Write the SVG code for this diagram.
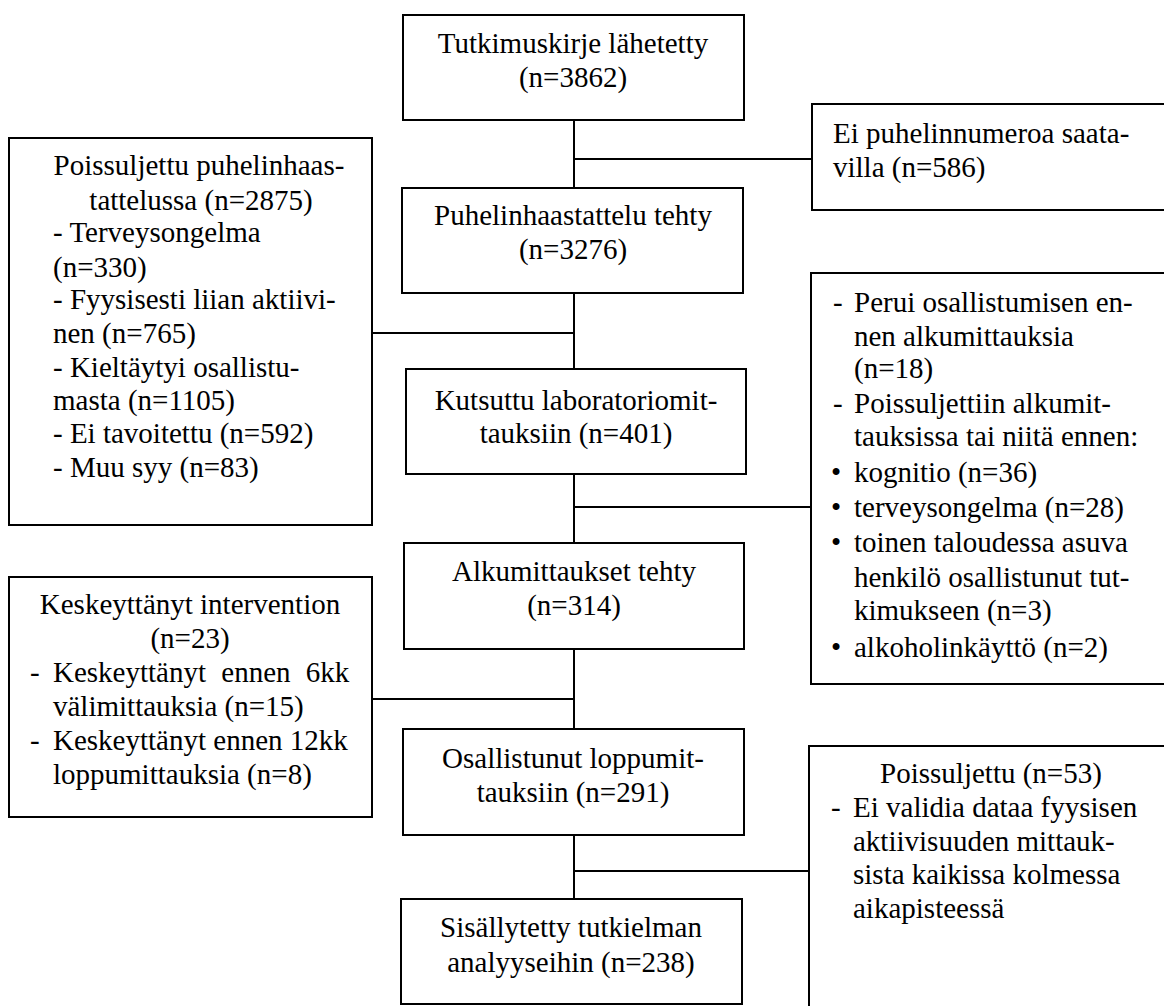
<svg xmlns="http://www.w3.org/2000/svg" width="1164" height="1006" viewBox="0 0 1164 1006">
<style>
.box{fill:#fff;stroke:#000;stroke-width:2}
.ln{stroke:#000;stroke-width:2;fill:none}
.c{text-anchor:middle}
</style>
<rect width="1164" height="1006" fill="#fff"/>
<g id="connectors">
<line class="ln" x1="574" y1="120" x2="574" y2="899"/>
<line class="ln" x1="574" y1="159" x2="812" y2="159"/>
<line class="ln" x1="372" y1="333" x2="574" y2="333"/>
<line class="ln" x1="574" y1="507" x2="811" y2="507"/>
<line class="ln" x1="372" y1="699" x2="574" y2="699"/>
<line class="ln" x1="574" y1="871" x2="809" y2="871"/>
</g>
<g font-family="Liberation Serif, Times New Roman, serif" font-size="29" fill="#000">
<g id="n1">
<rect class="box" x="403" y="15" width="341" height="105"/>
<text class="c" x="573" y="53">Tutkimuskirje lähetetty</text>
<text class="c" x="573" y="87">(n=3862)</text>
</g>
<g id="n2">
<rect class="box" x="402" y="188" width="341" height="105"/>
<text class="c" x="573" y="225">Puhelinhaastattelu tehty</text>
<text class="c" x="573" y="259">(n=3276)</text>
</g>
<g id="n3">
<rect class="box" x="406" y="369" width="340" height="105"/>
<text class="c" x="576" y="410">Kutsuttu laboratoriomit-</text>
<text class="c" x="576" y="443">tauksiin (n=401)</text>
</g>
<g id="n4">
<rect class="box" x="404" y="543" width="340" height="106"/>
<text class="c" x="574" y="581">Alkumittaukset tehty</text>
<text class="c" x="574" y="615">(n=314)</text>
</g>
<g id="n5">
<rect class="box" x="403" y="729" width="341" height="106"/>
<text class="c" x="573" y="768">Osallistunut loppumit-</text>
<text class="c" x="573" y="802">tauksiin (n=291)</text>
</g>
<g id="n6">
<rect class="box" x="401" y="899" width="341" height="105"/>
<text class="c" x="571" y="937">Sisällytetty tutkielman</text>
<text class="c" x="571" y="972">analyyseihin (n=238)</text>
</g>
<g id="r1">
<rect class="box" x="812" y="104" width="380" height="106"/>
<text x="833" y="143">Ei puhelinnumeroa saata-</text>
<text x="833" y="177">villa (n=586)</text>
</g>
<g id="r2">
<rect class="box" x="811" y="273" width="380" height="411"/>
<text x="833" y="312">-</text><text x="854" y="312">Perui osallistumisen en-</text>
<text x="854" y="346">nen alkumittauksia</text>
<text x="854" y="378">(n=18)</text>
<text x="833" y="413">-</text><text x="854" y="413">Poissuljettiin alkumit-</text>
<text x="854" y="446">tauksissa tai niitä ennen:</text>
<text x="831" y="482">•</text><text x="854" y="482">kognitio (n=36)</text>
<text x="831" y="517">•</text><text x="854" y="517">terveysongelma (n=28)</text>
<text x="831" y="552">•</text><text x="854" y="552">toinen taloudessa asuva</text>
<text x="854" y="587">henkilö osallistunut tut-</text>
<text x="854" y="620">kimukseen (n=3)</text>
<text x="831" y="657">•</text><text x="854" y="657">alkoholinkäyttö (n=2)</text>
</g>
<g id="r3">
<rect class="box" x="809" y="746" width="380" height="300"/>
<text class="c" x="991" y="783">Poissuljettu (n=53)</text>
<text x="831" y="817">-</text><text x="853" y="817">Ei validia dataa fyysisen</text>
<text x="853" y="851">aktiivisuuden mittauk-</text>
<text x="853" y="884">sista kaikissa kolmessa</text>
<text x="853" y="918">aikapisteessä</text>
</g>
<g id="l1">
<rect class="box" x="9" y="138" width="363" height="387"/>
<text class="c" x="199" y="175">Poissuljettu puhelinhaas-</text>
<text class="c" x="201" y="210">tattelussa (n=2875)</text>
<text x="53" y="242">- Terveysongelma</text>
<text x="53" y="277">(n=330)</text>
<text x="53" y="309">- Fyysisesti liian aktiivi-</text>
<text x="53" y="343">nen (n=765)</text>
<text x="53" y="377">- Kieltäytyi osallistu-</text>
<text x="53" y="410">masta (n=1105)</text>
<text x="53" y="443">- Ei tavoitettu (n=592)</text>
<text x="53" y="477">- Muu syy (n=83)</text>
</g>
<g id="l2">
<rect class="box" x="9" y="577" width="363" height="240"/>
<text class="c" x="190" y="614">Keskeyttänyt intervention</text>
<text class="c" x="190" y="648">(n=23)</text>
<text x="30" y="682">-</text><text x="53" y="682" word-spacing="8">Keskeyttänyt ennen 6kk</text>
<text x="53" y="716">välimittauksia (n=15)</text>
<text x="30" y="750">-</text><text x="53" y="750">Keskeyttänyt ennen 12kk</text>
<text x="53" y="784">loppumittauksia (n=8)</text>
</g>
</g>
</svg>
